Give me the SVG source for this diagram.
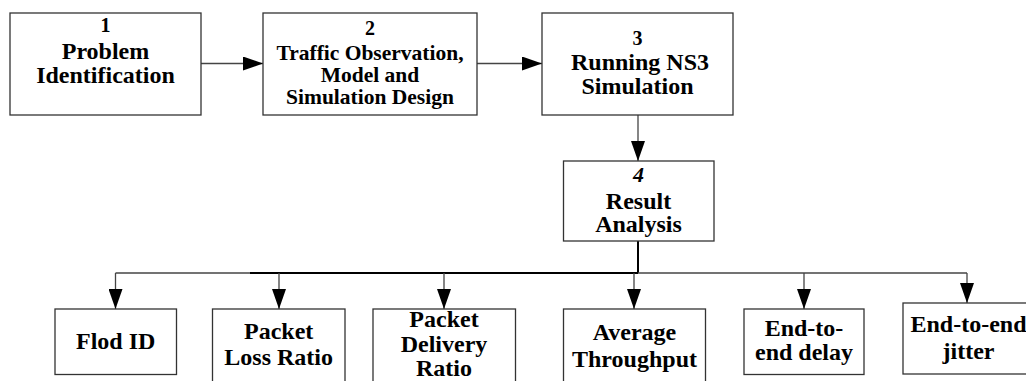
<svg xmlns="http://www.w3.org/2000/svg" width="1026" height="381" viewBox="0 0 1026 381">
<style>
.box{fill:#fff;stroke:#333;stroke-width:1.3}
.t{font-family:"Liberation Serif","Times New Roman",serif;font-weight:bold;text-anchor:middle;fill:#000}
.f24{font-size:24px}
.f21{font-size:21.5px}
.f20{font-size:20px}
.con{fill:none;stroke:#444;stroke-width:1.3}
.thick{fill:none;stroke:#000;stroke-width:2}
</style>
<defs>
<marker id="ah" markerUnits="userSpaceOnUse" markerWidth="20" markerHeight="14" refX="20" refY="7" orient="auto" viewBox="0 0 20 14">
<path d="M0,0 L20,7 L0,14 z" fill="#000"/>
</marker>
</defs>
<rect width="1026" height="381" fill="#fff"/>
<g id="connectors">
<line class="con" x1="201" y1="63.5" x2="263" y2="63.5" marker-end="url(#ah)"/>
<line class="con" x1="477" y1="63.5" x2="542" y2="63.5" marker-end="url(#ah)"/>
<line class="con" x1="638" y1="115" x2="638" y2="161" marker-end="url(#ah)"/>
<line class="thick" x1="638" y1="241" x2="638" y2="273"/>
<line class="con" x1="115.5" y1="273" x2="250" y2="273"/>
<line class="thick" x1="250" y1="273" x2="638" y2="273"/>
<line class="con" x1="638" y1="273" x2="967" y2="273"/>
<line class="con" x1="115.5" y1="273" x2="115.5" y2="309" marker-end="url(#ah)"/>
<line class="con" x1="279" y1="273" x2="279" y2="309" marker-end="url(#ah)"/>
<line class="con" x1="444" y1="273" x2="444" y2="309" marker-end="url(#ah)"/>
<line class="con" x1="634" y1="273" x2="634" y2="309" marker-end="url(#ah)"/>
<line class="con" x1="804" y1="273" x2="804" y2="309" marker-end="url(#ah)"/>
<line class="con" x1="967" y1="273" x2="967" y2="303" marker-end="url(#ah)"/>
</g>
<g id="n1">
<rect class="box" x="10" y="13" width="191" height="102"/>
<text class="t f20" x="105.5" y="31.5">1</text>
<text class="t f24" x="105.5" y="58.5">Problem</text>
<text class="t f24" x="105.5" y="83">Identification</text>
</g>
<g id="n2">
<rect class="box" x="263" y="13" width="214" height="102"/>
<text class="t f20" x="370" y="35">2</text>
<text class="t f21" x="370" y="59.5">Traffic Observation,</text>
<text class="t f21" x="370" y="81.5">Model and</text>
<text class="t f21" x="370" y="103.5">Simulation Design</text>
</g>
<g id="n3">
<rect class="box" x="542" y="13" width="191" height="102"/>
<text class="t f20" x="637.5" y="45">3</text>
<text class="t f24" x="640" y="70">Running NS3</text>
<text class="t f24" x="637.5" y="93.5">Simulation</text>
</g>
<g id="n4">
<rect class="box" x="563.5" y="161" width="150.5" height="80"/>
<text class="t" x="638.5" y="181.5" style="font-size:22px;font-style:italic">4</text>
<text class="t f24" x="638.5" y="208.5">Result</text>
<text class="t f24" x="638.5" y="232">Analysis</text>
</g>
<g id="n5">
<rect class="box" x="55" y="309" width="121.5" height="65.5"/>
<text class="t f24" x="115.7" y="348.5">Flod ID</text>
</g>
<g id="n6">
<rect class="box" x="212.5" y="309" width="132.5" height="76"/>
<text class="t f24" x="278.7" y="338.5">Packet</text>
<text class="t f24" x="278.7" y="365">Loss Ratio</text>
</g>
<g id="n7">
<rect class="box" x="373" y="309" width="142.5" height="76"/>
<text class="t f24" x="444" y="326.5">Packet</text>
<text class="t f24" x="444" y="352">Delivery</text>
<text class="t f24" x="444" y="376">Ratio</text>
</g>
<g id="n8">
<rect class="box" x="563.5" y="309" width="142" height="76"/>
<text class="t f24" x="634.5" y="340">Average</text>
<text class="t f24" x="634.5" y="366.5">Throughput</text>
</g>
<g id="n9">
<rect class="box" x="744" y="309" width="120" height="65.5"/>
<text class="t f24" x="804" y="336">End-to-</text>
<text class="t f24" x="804" y="360">end delay</text>
</g>
<g id="n10">
<rect class="box" x="903" y="303" width="130" height="71"/>
<text class="t f24" x="968.5" y="331.5">End-to-end</text>
<text class="t f24" x="968.5" y="358.5">jitter</text>
</g>
</svg>
